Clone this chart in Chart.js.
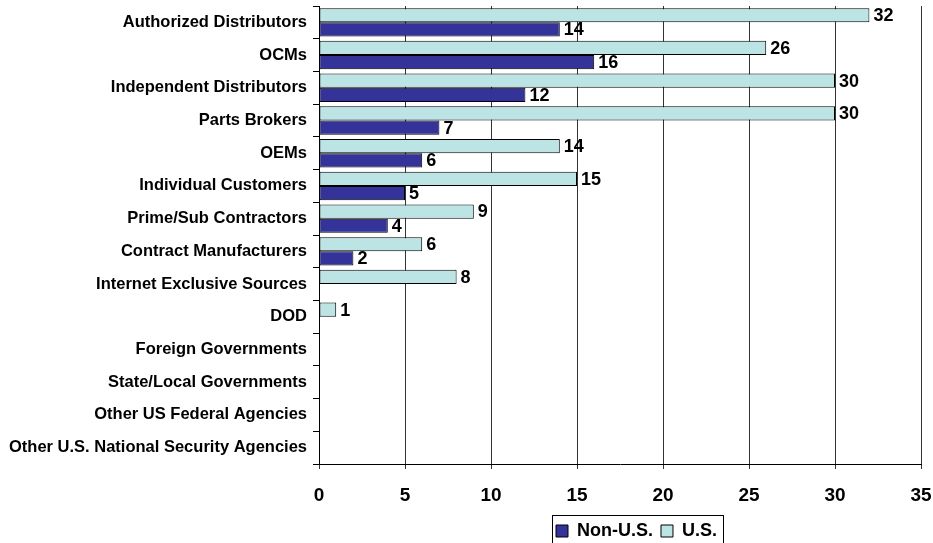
<!DOCTYPE html>
<html>
<head>
<meta charset="utf-8">
<script src="https://cdn.jsdelivr.net/npm/chart.js@4/dist/chart.umd.min.js"></script>
<style>
  html, body { margin: 0; padding: 0; background: #ffffff; }
  #wrap { width: 933px; height: 543px; }
</style>
</head>
<body>
<div id="wrap"><canvas id="c" width="933" height="543"></canvas></div>
<script>
// Sources used, by category
const categories = [
  'Authorized Distributors',
  'OCMs',
  'Independent Distributors',
  'Parts Brokers',
  'OEMs',
  'Individual Customers',
  'Prime/Sub Contractors',
  'Contract Manufacturers',
  'Internet Exclusive Sources',
  'DOD',
  'Foreign Governments',
  'State/Local Governments',
  'Other US Federal Agencies',
  'Other U.S. National Security Agencies'
];
const usValues    = [32, 26, 30, 30, 14, 15, 9, 6, 8, 1, 0, 0, 0, 0];
const nonUsValues = [14, 16, 12, 7, 6, 5, 4, 2, 0, 0, 0, 0, 0, 0];
const xTicks = [0, 5, 10, 15, 20, 25, 30, 35];

const FONT = '"Liberation Sans", Arial, sans-serif';
const LEGEND_DX = 176; // legend sits right of the canvas centre
const LEGEND_DY = 7;   // and a little lower than its layout slot

// Value labels at the end of each bar
const barLabels = {
  id: 'barLabels',
  afterDatasetsDraw(chart) {
    const ctx = chart.ctx;
    ctx.save();
    ctx.font = 'bold 18px ' + FONT;
    ctx.fillStyle = '#000';
    ctx.textAlign = 'left';
    ctx.textBaseline = 'middle';
    chart.data.datasets.forEach((ds, di) => {
      const meta = chart.getDatasetMeta(di);
      meta.data.forEach((bar, i) => {
        const v = ds.data[i];
        if (!v) return;
        ctx.fillText(String(v), bar.x + 4, bar.y + 1);
      });
    });
    ctx.restore();
  }
};

// Move the legend and frame it
const legendFrame = {
  id: 'legendFrame',
  afterLayout(chart) {
    const lg = chart.legend;
    if (!lg) return;
    lg.left += LEGEND_DX;
    lg.right += LEGEND_DX;
    lg.top += LEGEND_DY;
    lg.bottom += LEGEND_DY;
    if (lg.legendHitBoxes) lg.legendHitBoxes.forEach(h => { h.left += LEGEND_DX; h.top += LEGEND_DY; });
  },
  afterDraw(chart) {
    const lg = chart.legend;
    if (!lg || !lg.legendHitBoxes || !lg.legendHitBoxes.length) return;
    let l = Infinity, r = -Infinity, t = Infinity;
    lg.legendHitBoxes.forEach(h => {
      l = Math.min(l, h.left); r = Math.max(r, h.left + h.width);
      t = Math.min(t, h.top);
    });
    const ctx = chart.ctx;
    ctx.save();
    ctx.strokeStyle = '#000';
    ctx.lineWidth = 1;
    ctx.strokeRect(Math.round(l - 4) + 0.5, Math.round(t - 14) + 0.5, Math.round(r - l + 10), 40);
    ctx.restore();
  }
};

new Chart(document.getElementById('c'), {
  type: 'bar',
  data: {
    labels: categories,
    datasets: [
      {
        label: 'U.S.',
        data: usValues,
        backgroundColor: 'rgb(189,228,229)',
        borderColor: '#000',
        borderWidth: 1,
        borderSkipped: false,
        categoryPercentage: 0.87,
        barPercentage: 1.0
      },
      {
        label: 'Non-U.S.',
        data: nonUsValues,
        backgroundColor: '#333399',
        borderColor: '#000',
        borderWidth: 1,
        borderSkipped: false,
        categoryPercentage: 0.87,
        barPercentage: 1.0
      }
    ]
  },
  options: {
    indexAxis: 'y',
    responsive: false,
    animation: false,
    devicePixelRatio: 1,
    layout: { padding: { top: 6, right: 12, left: 0, bottom: 0 } },
    plugins: {
      tooltip: { enabled: false },
      legend: {
        position: 'bottom',
        reverse: true,
        labels: {
          font: { family: FONT, size: 18, weight: 'bold' },
          color: '#000',
          boxWidth: 12,
          boxHeight: 12,
          padding: 8
        }
      }
    },
    scales: {
      x: {
        type: 'linear',
        min: 0,
        max: 35,
        afterBuildTicks(scale) { scale.ticks = xTicks.map(v => ({ value: v })); },
        afterFit(scale) {
          scale.height = 43;
          scale.paddingLeft = 0;
          scale.paddingRight = 0;
        },
        ticks: {
          font: { family: FONT, size: 19, weight: 'bold' },
          color: '#000',
          padding: 15
        },
        grid: {
          color: '#333',
          lineWidth: 1,
          tickLength: 5,
          drawTicks: true
        },
        border: { color: '#000', width: 1 }
      },
      y: {
        type: 'category',
        afterFit(scale) {
          scale.width = 319;
          scale.paddingTop = 0;
          scale.paddingBottom = 0;
        },
        ticks: {
          font: { family: FONT, size: 16.5, weight: 'bold' },
          color: '#000',
          padding: 6,
          autoSkip: false
        },
        grid: {
          drawOnChartArea: false,
          color: '#000',
          tickLength: 6,
          offset: true
        },
        border: { color: '#000', width: 1 }
      }
    }
  },
  plugins: [barLabels, legendFrame]
});
</script>
</body>
</html>
